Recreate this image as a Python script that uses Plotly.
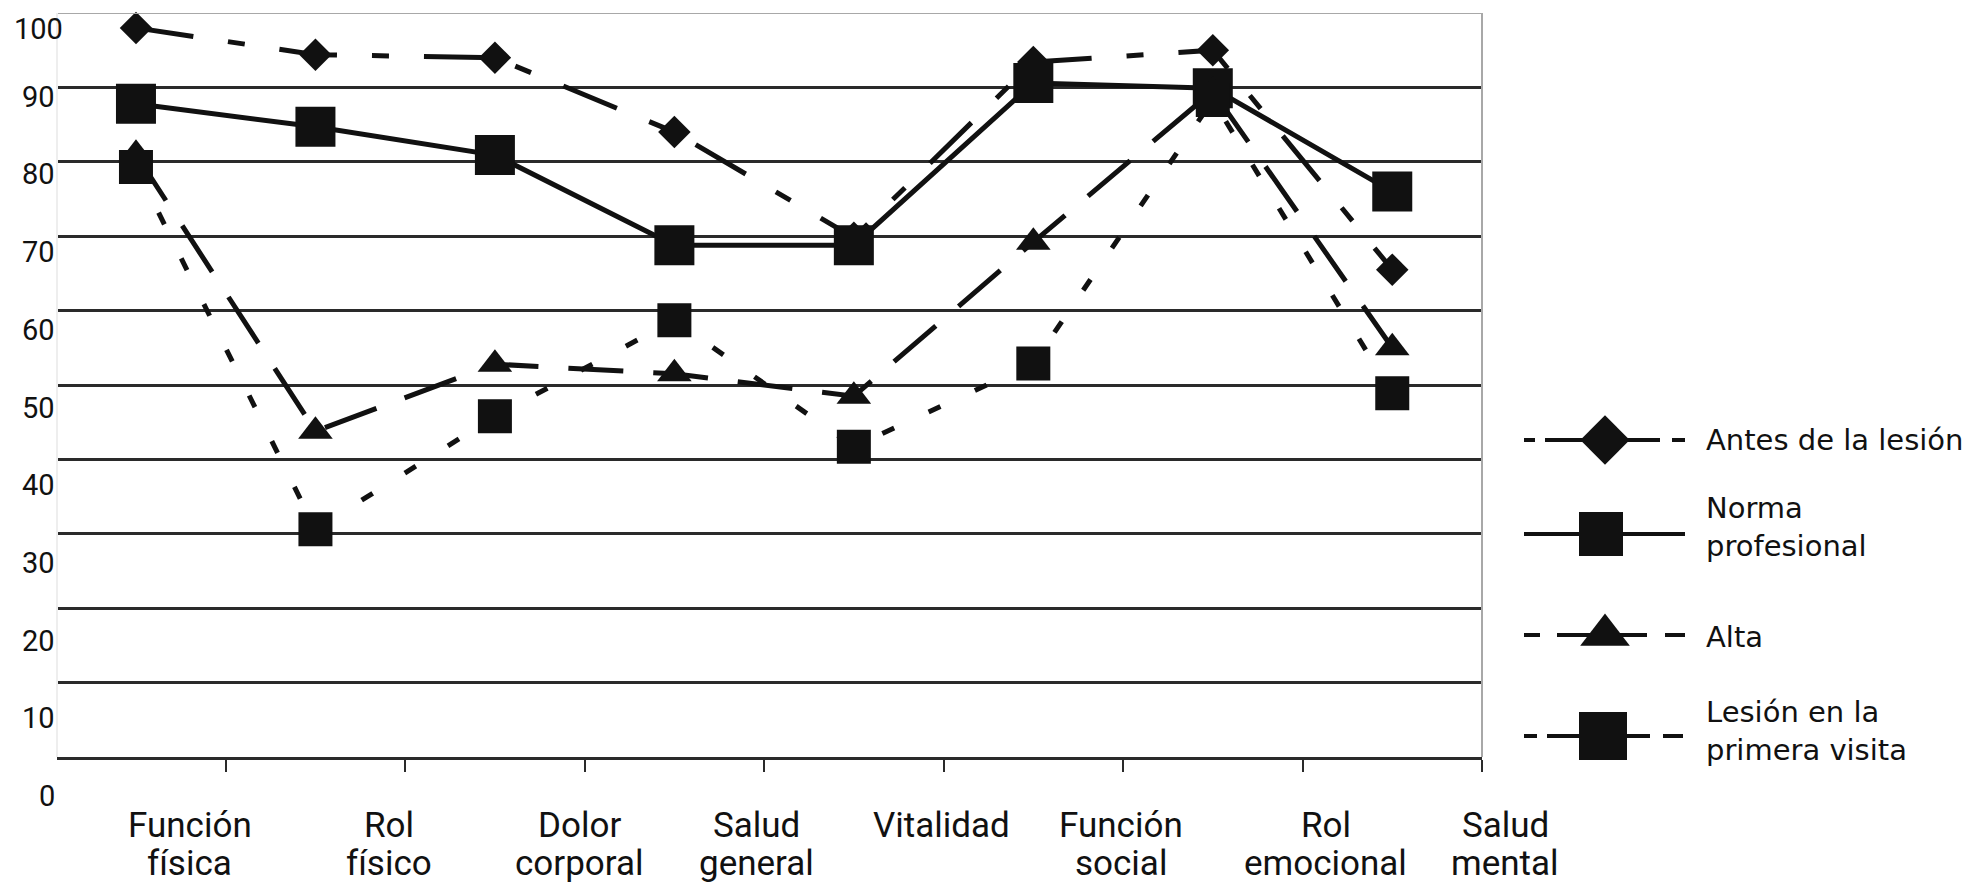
import plotly.graph_objects as go

# ---------------- data ----------------
categories = ["Función física", "Rol físico", "Dolor corporal", "Salud general",
              "Vitalidad", "Función social", "Rol emocional", "Salud mental"]
category_lines = [["Función", "física"], ["Rol", "físico"], ["Dolor", "corporal"],
                  ["Salud", "general"], ["Vitalidad"], ["Función", "social"],
                  ["Rol", "emocional"], ["Salud", "mental"]]

antes = [98.0, 94.4, 94.0, 84.0, 69.8, 93.4, 95.0, 65.5]
norma = [87.8, 84.7, 80.9, 68.8, 68.8, 90.6, 89.9, 76.0]
alta = [81.0, 43.8, 52.8, 51.5, 48.5, 69.2, 89.5, 55.0]
lesion = [79.3, 30.6, 45.8, 58.7, 41.7, 52.9, 88.3, 48.9]

series_names = ["Antes de la lesión", "Norma profesional", "Alta",
                "Lesión en la primera visita"]
legend_texts = ["Antes de la lesión", "Norma<br>profesional", "Alta",
                "Lesión en la<br>primera visita"]

y_tick_values = [0, 10, 20, 30, 40, 50, 60, 70, 80, 90, 100]
y_tick_labels = [str(v) for v in y_tick_values]

# ---------------- styles / layout constants ----------------
OFF = 8                                   # page body margin compensation
W, H = 1970 - OFF, 890 - OFF
PL, PR, PT, PB = 57 - OFF, 1482 - OFF, 13 - OFF, 757 - OFF   # plot area (px)
XR = [-0.44, 7.5]
INK = "#111111"
GRID = "#2a2a2a"
FONT_AX = "Roboto, DejaVu Sans, sans-serif"
FONT_LEG = "DejaVu Sans, Open Sans, sans-serif"
YLAB_SIZE = 29

styles = [
    dict(symbol="diamond", size=25, dash="58px,35px,17px,35px", width=5),
    dict(symbol="square", size=40, dash="solid", width=5),
    dict(symbol="triangle-up", size=30, dash="55px,30px", width=5),
    dict(symbol="square", size=34, dash="13px,38px", width=5),
]
legend_styles = [
    dict(size=38, dash="11px,10px,115px,12px,13px"),
    dict(size=44, dash="solid"),
    dict(size=43, dash="16px,17px,90px,18px,22px"),
    dict(size=48, dash="13px,10px,103px,13px,20px"),
]
label_centers = [0.30, 1.41, 2.47, 3.46, 4.49, 5.49, 6.63, 7.63]
legend_marker_y = [440, 534, 635, 736]
legend_marker_x = [1605, 1601, 1605, 1603]
legend_text_y = [440, 527, 637, 731]
LEG_X0, LEG_X1, LEG_TX = 1524, 1685, 1704

all_values = [antes, norma, alta, lesion]

fig = go.Figure()

for name, vals, st in zip(series_names, all_values, styles):
    fig.add_trace(go.Scatter(
        x=categories, y=vals, name=name, mode="lines+markers",
        line=dict(color=INK, width=st["width"], dash=st["dash"]),
        marker=dict(symbol=st["symbol"], size=st["size"], color=INK,
                    line=dict(width=0)),
        cliponaxis=False, showlegend=False, hoverinfo="x+y+name",
    ))

# custom legend drawn on a pixel-space axis in the right margin
for i, (name, st, lst) in enumerate(zip(series_names, styles, legend_styles)):
    fig.add_trace(go.Scatter(
        x=[LEG_X0 - OFF, LEG_X1 - OFF], y=[legend_marker_y[i] - OFF] * 2,
        mode="lines", line=dict(color=INK, width=4, dash=lst["dash"]),
        xaxis="x2", yaxis="y2", showlegend=False, hoverinfo="skip",
    ))
    fig.add_trace(go.Scatter(
        x=[legend_marker_x[i] - OFF], y=[legend_marker_y[i] - OFF], mode="markers",
        marker=dict(symbol=st["symbol"], size=lst["size"], color=INK,
                    line=dict(width=0)),
        xaxis="x2", yaxis="y2", showlegend=False, hoverinfo="skip",
        cliponaxis=False,
    ))

annotations = []
# y tick labels (drifting slightly downward as in the reference),
# kept fully inside the page at the top-left corner
px_per_unit = (PB - PT) / 100.0
for v, t in zip(y_tick_values, y_tick_labels):
    grid_px = PT + (100 - v) * px_per_unit
    shift = 6 + 0.33 * (100 - v)
    min_center = YLAB_SIZE * 0.72
    if grid_px + shift < min_center:
        shift = min_center - grid_px
    est_w = len(t) * 0.57 * YLAB_SIZE + 4
    xs = max(0.0, est_w - PL + 3)
    annotations.append(dict(
        xref="x domain", x=0, xanchor="right", xshift=xs,
        yref="y", y=v, yanchor="middle", yshift=-shift,
        text=t, showarrow=False, font=dict(family=FONT_AX, size=YLAB_SIZE, color=INK),
    ))
# category labels
for cx, lines in zip(label_centers, category_lines):
    for k, ln in enumerate(lines):
        annotations.append(dict(
            xref="x domain", x=(cx - XR[0]) / (XR[1] - XR[0]), xanchor="center",
            yref="y", y=0, yanchor="middle", yshift=-68 - 38 * k,
            text=ln, showarrow=False, font=dict(family=FONT_AX, size=35, color=INK),
        ))
# legend texts
for ty, txt in zip(legend_text_y, legend_texts):
    annotations.append(dict(
        xref="paper", x=(LEG_TX - OFF) / W, xanchor="left",
        yref="paper", y=1 - (ty - OFF) / H, yanchor="middle",
        text=txt, showarrow=False, align="left",
        font=dict(family=FONT_LEG, size=29, color=INK),
    ))

shapes = [
    dict(type="line", xref="x domain", x0=0, x1=1, yref="y", y0=100, y1=100,
         line=dict(color="#a8a8a8", width=2)),
    dict(type="line", xref="x domain", x0=1, x1=1, yref="y domain", y0=0, y1=1,
         line=dict(color="#a8a8a8", width=2)),
    dict(type="line", xref="x domain", x0=0, x1=0, yref="y domain", y0=0, y1=1,
         line=dict(color="#eeeeee", width=2)),
]

fig.update_layout(
    width=W, height=H, margin=dict(l=0, r=0, t=0, b=0),
    paper_bgcolor="white", plot_bgcolor="white", showlegend=False,
    xaxis=dict(domain=[PL / W, PR / W], type="category",
               categoryorder="array", categoryarray=categories,
               range=XR, tickson="boundaries",
               ticks="outside", ticklen=12, tickwidth=2, tickcolor=GRID,
               showticklabels=False, showgrid=False, zeroline=False,
               showline=True, linecolor=GRID, linewidth=3, fixedrange=True),
    yaxis=dict(domain=[1 - PB / H, 1 - PT / H], range=[0, 100],
               tickvals=[10, 20, 30, 40, 50, 60, 70, 80, 90],
               showgrid=True, gridcolor=GRID, gridwidth=3,
               showticklabels=False, ticks="", zeroline=False,
               showline=False, fixedrange=True),
    xaxis2=dict(domain=[(1500 - OFF) / W, 1.0], range=[1500 - OFF, W],
                anchor="y2", visible=False, fixedrange=True),
    yaxis2=dict(domain=[0, 1], range=[H, 0], anchor="x2",
                visible=False, fixedrange=True),
    annotations=annotations, shapes=shapes,
)

fig.write_html("out.html")
